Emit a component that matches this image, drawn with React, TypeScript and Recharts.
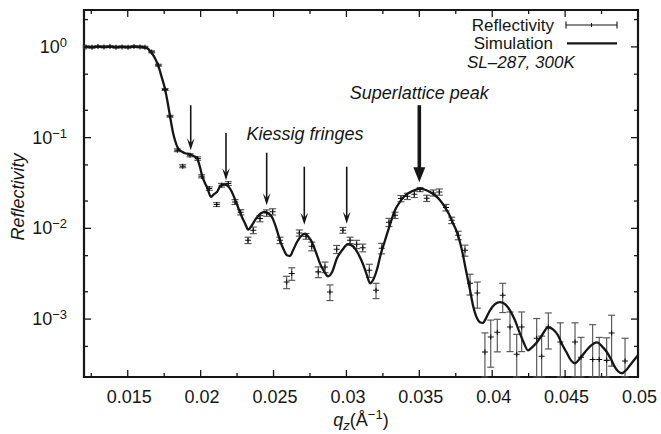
import React from "react";
import {
  ComposedChart,
  Line,
  Scatter,
  ErrorBar,
  XAxis,
  YAxis,
  ReferenceLine,
  ReferenceArea,
  ReferenceDot,
} from "recharts";

// simulated reflectivity curve (q_z in 1/Å)
const simQ = [
  0.012, 0.0131, 0.01447, 0.01584, 0.01632, 0.0166, 0.01687, 0.01708, 0.01735, 0.01756,
  0.01776, 0.0179, 0.0181, 0.01824, 0.01845, 0.01865, 0.01893, 0.01927, 0.01955, 0.01975,
  0.01996, 0.02009, 0.0203, 0.02044, 0.02071, 0.02092, 0.02112, 0.0214, 0.02167, 0.02188,
  0.02208, 0.02243, 0.0227, 0.02284, 0.02304, 0.02327, 0.02352, 0.0238, 0.02414, 0.02441,
  0.02462, 0.0249, 0.02517, 0.02544, 0.02572, 0.02592, 0.02613, 0.02634, 0.02661, 0.02688,
  0.02716, 0.02736, 0.02764, 0.02791, 0.02819, 0.02846, 0.02874, 0.02901, 0.02935, 0.0297,
  0.03011, 0.03045, 0.03079, 0.03114, 0.03141, 0.03162, 0.03182, 0.0321, 0.03237, 0.03265,
  0.03299, 0.03333, 0.03361, 0.03388, 0.03415, 0.03457, 0.03505, 0.03539, 0.03573, 0.03608,
  0.03642, 0.03676, 0.03704, 0.03731, 0.03758, 0.03779, 0.038, 0.0382, 0.03848, 0.03868,
  0.03896, 0.03916, 0.03937, 0.03957, 0.03985, 0.04019, 0.04053, 0.04088, 0.04122, 0.04156,
  0.0419, 0.04218, 0.04245, 0.04273, 0.04307, 0.04341, 0.04383, 0.04417, 0.04451, 0.04479,
  0.04513, 0.0454, 0.04568, 0.04602, 0.04636, 0.04671, 0.04719, 0.04753, 0.04787, 0.04815,
  0.04842, 0.04863, 0.0489, 0.04918, 0.04945, 0.04972, 0.05,
];
const simR = [
  1.0, 1.0, 1.0, 1.0, 0.968, 0.874, 0.751, 0.628, 0.452, 0.342,
  0.2335, 0.172, 0.1147, 0.0936, 0.0764, 0.0708, 0.0673, 0.0656, 0.0624, 0.0593,
  0.0472, 0.0385, 0.0314, 0.0284, 0.0222, 0.0238, 0.0252, 0.0299, 0.0306, 0.0291,
  0.0263, 0.01954, 0.01505, 0.01326, 0.01138, 0.0097, 0.01082, 0.01282, 0.01467, 0.01517,
  0.01467, 0.01326, 0.01028, 0.00739, 0.00573, 0.00505, 0.00496, 0.00573, 0.00708, 0.00818,
  0.00876, 0.00818, 0.00703, 0.00545, 0.00409, 0.00337, 0.00296, 0.00328, 0.00468, 0.00573,
  0.00668, 0.00635, 0.00531, 0.00402, 0.00304, 0.00248, 0.00268, 0.00354, 0.00531, 0.00739,
  0.01099, 0.01584, 0.01891, 0.02175, 0.0238, 0.02597, 0.02747, 0.02664, 0.0252, 0.02317,
  0.0204, 0.01708, 0.0143, 0.01138, 0.00906, 0.00703, 0.00505, 0.00345, 0.00208, 0.00142,
  0.00102, 0.000922, 0.000906, 0.00102, 0.00125, 0.00146, 0.00154, 0.00146, 0.00125, 0.00097,
  0.000697, 0.000541, 0.000453, 0.000489, 0.000555, 0.000663, 0.000812, 0.000772, 0.000663, 0.000528,
  0.00042, 0.000351, 0.000326, 0.00037, 0.000431, 0.000501, 0.000555, 0.000501, 0.000431, 0.00036,
  0.000296, 0.000266, 0.000253, 0.000273, 0.00031, 0.000351, 0.000399,
];

// measured reflectivity with errors
const dataQ = [
  0.01214, 0.01255, 0.01296, 0.01337, 0.01378, 0.01419, 0.01461, 0.01502, 0.01543, 0.01584, 0.01618,
  0.01664, 0.0171, 0.01756, 0.0179, 0.0184, 0.01877, 0.01927, 0.0198, 0.02007,
  0.02059, 0.0211, 0.02144, 0.0219, 0.02236, 0.02275, 0.02325, 0.02361, 0.02407, 0.02453,
  0.02494, 0.02544, 0.0259, 0.02625, 0.02677, 0.02723, 0.02762, 0.02807, 0.02853, 0.02887,
  0.02933, 0.02976, 0.03025, 0.0307, 0.03112, 0.03157, 0.03203, 0.03242, 0.03292, 0.03333,
  0.03374, 0.03418, 0.03466, 0.03505, 0.03551, 0.03596, 0.03637, 0.03683, 0.03722, 0.03767,
  0.03813, 0.03848, 0.03898, 0.0395, 0.0399, 0.04035, 0.04072, 0.04122, 0.04168, 0.04202,
  0.04305, 0.04339, 0.04385, 0.04467, 0.04568, 0.04609, 0.04689, 0.04734, 0.04785, 0.04819, 0.04911,
];
const dataR = [
  1.0, 0.99, 1.01, 1.0, 1.01, 0.99, 1.0, 0.99, 1.01, 1.0, 0.99,
  0.881, 0.628, 0.339, 0.172, 0.0726, 0.0484, 0.064, 0.0588, 0.0375,
  0.02747, 0.0183, 0.0299, 0.0312, 0.01954, 0.01505, 0.00739, 0.00953, 0.01282, 0.01478,
  0.01524, 0.00739, 0.002564, 0.003175, 0.0089, 0.00818, 0.00635, 0.00331, 0.00375, 0.00199,
  0.00588, 0.00953, 0.00739, 0.00668, 0.00611, 0.00345, 0.00208, 0.00603, 0.01168, 0.01394,
  0.02131, 0.02259, 0.02377, 0.02678, 0.02147, 0.02457, 0.0252, 0.01696, 0.01228, 0.00839,
  0.00573, 0.00248, 0.00194, 0.000434, 0.000635, 0.000715, 0.00183, 0.000818, 0.000409, 0.000818,
  0.000614, 0.000389, 0.000818, 0.000559, 0.000559, 0.000379, 0.000358, 0.000358, 0.000351, 0.000703, 0.000345,
];
const dataErr = [
  0.025, 0.025, 0.025, 0.025, 0.025, 0.025, 0.025, 0.025, 0.025, 0.025, 0.025,
  0.022, 0.015, 0.008, 0.004, 0.0025, 0.0018, 0.0025, 0.0025, 0.0015,
  0.0012, 0.0009, 0.0014, 0.0015, 0.0012, 0.001, 0.0006, 0.0008, 0.001, 0.0012,
  0.0012, 0.0006, 0.0004, 0.0005, 0.0007, 0.0006, 0.0007, 0.00045, 0.0005, 0.00039,
  0.0006, 0.0007, 0.0006, 0.0007, 0.0006, 0.00057, 0.0004, 0.0008, 0.0012, 0.0011,
  0.0017, 0.0018, 0.0019, 0.0014, 0.0017, 0.0019, 0.002, 0.0014, 0.001, 0.0009,
  0.0008, 0.00064, 0.00062, 0.00027, 0.00034, 0.00028, 0.00065, 0.00038, 0.00027, 0.00038,
  0.0004, 0.00026, 0.00035, 0.00035, 0.00035, 0.00025, 0.00051, 0.00027, 0.00027, 0.0004, 0.00027,
];

// annotation arrows
const fringeQ = [0.01932, 0.02174, 0.02453, 0.02711, 0.03002];
const fringeTop = [0.2277, 0.1127, 0.0682, 0.0478, 0.0478];
const fringeTip = [0.0726, 0.0339, 0.01798, 0.01096, 0.01124];
const peakQ = 0.035;
const peakTop = 0.2277;
const peakTip = 0.0322;

const xMajor = [0.015, 0.02, 0.025, 0.03, 0.035, 0.04, 0.045, 0.05];
const xMinor = [0.0125, 0.0175, 0.0225, 0.0275, 0.0325, 0.0375, 0.0425, 0.0475];
const yMajor = [1, 0.1, 0.01, 0.001];
const yMajorExp = ["0", "\u22121", "\u22122", "\u22123"];
const yMinor = [2, 0.5, 0.2, 0.05, 0.02, 0.005, 0.002, 0.0005];

const X_MIN = 0.012;
const X_MAX = 0.05;
const Y_MIN = 2.3e-4;
const Y_MAX = 2.55;

const W = 661;
const H = 434;
const PLOT_W = 554;
const PLOT_H = 367;
const FONT = "'Liberation Sans', Arial, sans-serif";
const FS = 18;
const LEGEND_FS = 17;
const INK = "#161616";

const simData = simQ.map((q, i) => ({ q, r: simR[i] }));
const pointData = dataQ.map((q, i) => ({ q, r: dataR[i], err: dataErr[i] }));

const isIn = (list: number[], v: number) => list.some((t) => Math.abs(t - v) < 1e-9);

const XTick = (props: any) => {
  const { x, y, payload } = props;
  const major = isIn(xMajor, payload.value);
  const len = major ? 7 : 4;
  return (
    <g>
      <line x1={x} y1={y} x2={x} y2={y - len} stroke={INK} strokeWidth={1.3} />
      <line x1={x} y1={y - PLOT_H} x2={x} y2={y - PLOT_H + len} stroke={INK} strokeWidth={1.3} />
      {major && (
        <text x={x + 1.5} y={y + 26} textAnchor="middle" fontSize={FS} fontFamily={FONT} fill={INK}>
          {String(payload.value)}
        </text>
      )}
    </g>
  );
};

const YTick = (props: any) => {
  const { x, y, payload } = props;
  const idx = yMajor.findIndex((t) => Math.abs(t - payload.value) / t < 1e-6);
  const major = idx >= 0;
  const len = major ? 7 : 4;
  return (
    <g>
      <line x1={x} y1={y} x2={x + len} y2={y} stroke={INK} strokeWidth={1.3} />
      <line x1={x + PLOT_W} y1={y} x2={x + PLOT_W - len} y2={y} stroke={INK} strokeWidth={1.3} />
      {major && (
        <text x={x - 17} y={y + 6} textAnchor="end" fontSize={FS} fontFamily={FONT} fill={INK}>
          10
          <tspan dy={-6} fontSize={13}>
            {yMajorExp[idx]}
          </tspan>
        </text>
      )}
    </g>
  );
};

const PlusMark = (props: any) => {
  const { cx, cy } = props;
  if (cx == null || cy == null) return <g />;
  return (
    <path
      d={`M${cx - 3},${cy}H${cx + 3}M${cx},${cy - 2.5}V${cy + 2.5}`}
      stroke="#111"
      strokeWidth={1.1}
      fill="none"
    />
  );
};

const thinArrow = (p: any) => {
  const { x1, y1, x2, y2 } = p;
  return (
    <g>
      <line x1={x1} y1={y1} x2={x2} y2={y2 - 4} stroke={INK} strokeWidth={1.6} />
      <polygon
        points={`${x2 - 3.8},${y2 - 12} ${x2},${y2 - 7} ${x2 + 3.8},${y2 - 12} ${x2},${y2}`}
        fill={INK}
      />
    </g>
  );
};

const thickArrow = (p: any) => {
  const { x1, y1, x2, y2 } = p;
  return (
    <g>
      <line x1={x1} y1={y1} x2={x2} y2={y2 - 10} stroke={INK} strokeWidth={3.6} />
      <polygon points={`${x2 - 6},${y2 - 15} ${x2 + 6},${y2 - 15} ${x2},${y2}`} fill={INK} />
      <text
        x={x1}
        y={y1 - 6}
        textAnchor="middle"
        fontSize={FS}
        fontStyle="italic"
        fontFamily={FONT}
        fill={INK}
      >
        Superlattice peak
      </text>
    </g>
  );
};

const fringeLabel = (p: any) => (
  <text
    x={p.cx}
    y={p.cy}
    textAnchor="middle"
    fontSize={FS}
    fontStyle="italic"
    fontFamily={FONT}
    fill={INK}
  >
    Kiessig fringes
  </text>
);

export default function App() {
  return (
    <div style={{ position: "absolute", left: 0, top: 0, width: W, height: H, background: "#fff" }}>
      <ComposedChart width={W} height={H} margin={{ top: 10, right: 23, bottom: 0, left: 0 }}>
        <XAxis
          dataKey="q"
          type="number"
          domain={[X_MIN, X_MAX]}
          allowDataOverflow
          ticks={[...xMinor, ...xMajor].sort((a, b) => a - b)}
          interval={0}
          tick={<XTick />}
          tickSize={0}
          tickMargin={0}
          tickLine={false}
          axisLine={false}
          height={57}
        />
        <YAxis
          type="number"
          scale="log"
          domain={[Y_MIN, Y_MAX]}
          allowDataOverflow
          ticks={[...yMinor, ...yMajor].sort((a, b) => a - b)}
          interval={0}
          tick={<YTick />}
          tickSize={0}
          tickMargin={0}
          tickLine={false}
          axisLine={false}
          width={84}
        />
        <Scatter data={pointData} dataKey="r" shape={<PlusMark />} isAnimationActive={false}>
          <ErrorBar
            dataKey={(d: any) => [Math.min(d.err, d.r - Y_MIN), d.err]}
            direction="y"
            width={3.5}
            stroke="#555"
            strokeWidth={1.15}
            isAnimationActive={false}
          />
        </Scatter>
        <Line
          data={simData}
          dataKey="r"
          type="monotone"
          stroke={INK}
          strokeWidth={2.3}
          dot={false}
          activeDot={false}
          isAnimationActive={false}
        />
        {fringeQ.map((q, i) => (
          <ReferenceLine
            key={q}
            segment={[
              { x: q, y: fringeTop[i] },
              { x: q, y: fringeTip[i] },
            ]}
            shape={thinArrow}
            ifOverflow="visible"
          />
        ))}
        <ReferenceLine
          segment={[
            { x: peakQ, y: peakTop },
            { x: peakQ, y: peakTip },
          ]}
          shape={thickArrow}
          ifOverflow="visible"
        />
        <ReferenceDot x={0.02716} y={0.0948} shape={fringeLabel} ifOverflow="visible" />
        <ReferenceArea
          x1={X_MIN}
          x2={X_MAX}
          y1={Y_MIN}
          y2={Y_MAX}
          fill="none"
          stroke={INK}
          strokeWidth={2.2}
          ifOverflow="visible"
        />
      </ComposedChart>
      <svg
        width={W}
        height={H}
        style={{ position: "absolute", left: 0, top: 0, pointerEvents: "none" }}
        fontFamily={FONT}
        fill={INK}
      >
        <text x={554} y={30.5} textAnchor="end" fontSize={LEGEND_FS}>
          Reflectivity
        </text>
        <path d="M566,25H617M566,21.5V28.5M617,21.5V28.5M591.5,23V27" stroke={INK} strokeWidth={1.1} />
        <text x={553} y={49} textAnchor="end" fontSize={LEGEND_FS}>
          Simulation
        </text>
        <line x1={567} y1={43.3} x2={617} y2={43.3} stroke={INK} strokeWidth={2.3} />
        <text x={467} y={67.5} fontSize={LEGEND_FS} fontStyle="italic">
          SL–287, 300K
        </text>
        <text
          x={18}
          y={197}
          transform="rotate(-90 18 197)"
          textAnchor="middle"
          dominantBaseline="central"
          fontSize={FS}
          fontStyle="italic"
        >
          Reflectivity
        </text>
        <text x={361} y={426} textAnchor="middle" fontSize={FS}>
          <tspan fontStyle="italic">q</tspan>
          <tspan fontStyle="italic" fontSize={13} dy={4}>
            z
          </tspan>
          <tspan dy={-4}>(Å</tspan>
          <tspan fontSize={13} dy={-7}>
            {"\u22121"}
          </tspan>
          <tspan dy={7}>)</tspan>
        </text>
      </svg>
    </div>
  );
}
